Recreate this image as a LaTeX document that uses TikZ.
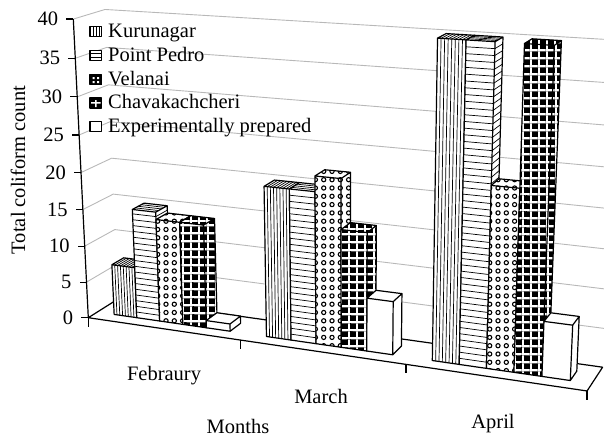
\documentclass[tikz,border=0pt]{standalone}
\usepackage{fontspec}
\setmainfont{Liberation Serif}
\usetikzlibrary{patterns,patterns.meta}

\tikzset{pp/.cd, X/.store in=\ppX, Y/.store in=\ppY, Z/.store in=\ppZ, X=0, Y=0, Z=0}
\tikzdeclarecoordinatesystem{pp}{%
  \tikzset{pp/.cd,#1}%
  \pgfmathsetmacro\ppw{1-0.04105*\ppX-0.001353*\ppY+0.03288*\ppZ}%
  \pgfmathsetmacro\ppxx{(88.3+142.16*\ppX-0.4742*\ppY+33.44*\ppZ)/\ppw}%
  \pgfmathsetmacro\ppyy{(317.7+8.374*\ppX-7.4916*\ppY-8.779*\ppZ)/\ppw}%
  \pgfpoint{\ppxx pt}{-\ppyy pt}%
}

\tikzdeclarepattern{
  name=velp, type=uncolored,
  bounding box={(-4.15pt,-4.15pt) and (4.15pt,4.15pt)},
  tile size={(8.3pt,8.3pt)},
  code={\draw[line width=1.1pt] (0pt,0pt) circle (2.1pt);}
}
\tikzdeclarepattern{
  name=chavp, type=colored,
  bounding box={(0pt,0pt) and (8.3pt,8.3pt)},
  tile size={(8.3pt,8.3pt)},
  code={\fill[black] (0pt,0pt) rectangle (8.3pt,8.3pt);
        \fill[white] (0pt,0pt) rectangle (8.3pt,1.9pt);
        \fill[white] (0pt,0pt) rectangle (1.9pt,8.3pt);}
}

\tikzset{
  gridln/.style={draw=black!28, line width=0.9pt},
  edge/.style={draw=black, line width=1.2pt},
  hatch/.style={draw=black, line width=0.7pt},
  lbl/.style={font=\fontsize{20.5}{24}\selectfont, inner sep=0pt},
  kurface/.style={fill=white},
  ppface/.style={fill=white},
  velface/.style={fill=white, postaction={pattern=velp}},
  chavface/.style={pattern=chavp},
  expface/.style={fill=white},
}

\newcommand\kurlines[3]{%
  \foreach \k in {1,...,7}{%
    \pgfmathsetmacro\xx{#1+\k*0.153846/8}%
    \draw[hatch] (pp cs:X=\xx,Y=0,Z=0.3) -- (pp cs:X=\xx,Y=#3,Z=0.3) -- (pp cs:X=\xx,Y=#3,Z=0.7);
  }%
}
\newcommand\pplines[3]{%
  \pgfmathtruncatemacro\nn{#3/0.8-0.01}%
  \foreach \k in {1,...,\nn}{%
    \pgfmathsetmacro\yy{\k*0.8}%
    \draw[hatch] (pp cs:X=#1,Y=\yy,Z=0.3) -- (pp cs:X=#2,Y=\yy,Z=0.3) -- (pp cs:X=#2,Y=\yy,Z=0.7);
  }%
  \foreach \z in {0.4,0.5,0.6}{%
    \draw[hatch] (pp cs:X=#1,Y=#3,Z=\z) -- (pp cs:X=#2,Y=#3,Z=\z);
  }%
}
\newcommand\vellines[3]{}
\newcommand\chavlines[3]{}
\newcommand\explines[3]{}

\newcommand\drawbar[3]{%
  \pgfmathsetmacro\xa{#1}%
  \pgfmathsetmacro\xb{#1+0.153846}%
  \coordinate (A) at (pp cs:X=\xa,Y=0,Z=0.3);
  \coordinate (B) at (pp cs:X=\xb,Y=0,Z=0.3);
  \coordinate (C) at (pp cs:X=\xb,Y=#2,Z=0.3);
  \coordinate (D) at (pp cs:X=\xa,Y=#2,Z=0.3);
  \coordinate (E) at (pp cs:X=\xa,Y=#2,Z=0.7);
  \coordinate (F) at (pp cs:X=\xb,Y=#2,Z=0.7);
  \coordinate (G) at (pp cs:X=\xb,Y=0,Z=0.7);
  \path[#3face] (A) -- (B) -- (C) -- (D) -- cycle;
  \path[#3face] (D) -- (C) -- (F) -- (E) -- cycle;
  \path[#3face] (B) -- (G) -- (F) -- (C) -- cycle;
  \csname #3lines\endcsname{\xa}{\xb}{#2}%
  \draw[edge] (A) -- (B) -- (C) -- (D) -- cycle (D) -- (E) -- (F) -- (C) (B) -- (G) -- (F);
}

\begin{document}
\begin{tikzpicture}[x=1pt,y=-1pt,line join=round]
\useasboundingbox (0,0) rectangle (604,437);
\clip (0,0) rectangle (604,437);

% walls gridlines
\foreach \v in {5,10,...,40}{
  \draw[gridln] (pp cs:X=0,Y=\v,Z=0) -- (pp cs:X=0,Y=\v,Z=1) -- (pp cs:X=3,Y=\v,Z=1);
}
% floor
\coordinate (f00) at (pp cs:X=0,Y=0,Z=0);
\coordinate (f30) at (pp cs:X=3,Y=0,Z=0);
\coordinate (f31) at (pp cs:X=3,Y=0,Z=1);
\coordinate (f01) at (pp cs:X=0,Y=0,Z=1);
\draw[edge] (f00) -- (f30) -- (f31) -- (f01) -- cycle;

% value axis
\coordinate (top) at (pp cs:X=0,Y=40,Z=0);
\draw[edge] (f00) -- (top);
\foreach \v in {0,5,...,40}{
  \coordinate (t\v) at (pp cs:X=0,Y=\v,Z=0);
  \draw[edge] (t\v) -- ++(-7,0) coordinate (tl\v);
  \node[lbl,anchor=east] at ([xshift=-8pt]tl\v) {\v};
}
% category ticks
\foreach \i in {0,1,2,3}{
  \coordinate (c\i) at (pp cs:X=\i,Y=0,Z=0);
  \draw[edge] (c\i) -- ++(0,9);
}

% bars
\def\w{0.153846}
\foreach \c/\a/\b/\cc/\d/\e in {0/7/15/14/14/1, 1/20/20/22/15.5/7, 2/40/40/23/40/7}{
  \pgfmathsetmacro\xo{\c+0.115385}
  \drawbar{\xo}{\a}{kur}
  \pgfmathsetmacro\xo{\c+0.115385+\w}
  \drawbar{\xo}{\b}{pp}
  \pgfmathsetmacro\xo{\c+0.115385+2*\w}
  \drawbar{\xo}{\cc}{vel}
  \pgfmathsetmacro\xo{\c+0.115385+3*\w}
  \drawbar{\xo}{\d}{chav}
  \pgfmathsetmacro\xo{\c+0.115385+4*\w}
  \drawbar{\xo}{\e}{exp}
}

% labels
\node[lbl,rotate=90] (ylab) at (18,170) {Total coliform count};
\node[lbl,anchor=base] (feb) at (164,380) {Febraury};
\node[lbl,anchor=base] (mar) at (321,403) {March};
\node[lbl,anchor=base] (apr) at (493,428) {April};
\node[lbl,anchor=base] (months) at (238,433) {Months};

% legend
\foreach \n/\t/\yb in {kur/Kurunagar/37.3, pp/Point Pedro/61.3, vel/Velanai/85, chav/Chavakachcheri/108.6, exp/Experimentally prepared/132}{
  \node[lbl,anchor=base west] (L\n) at (108,\yb) {\t};
}
\draw[edge,fill=white] (90,26.5) rectangle (101.5,36.5);
\foreach \xx in {93,96,99}{\draw[hatch] (\xx,26.5) -- (\xx,36.5);}
\draw[edge,fill=white] (90,50.5) rectangle (101.5,60.5);
\foreach \yy in {53.8,57.2}{\draw[hatch] (90,\yy) -- (101.5,\yy);}
\draw[edge,fill=black] (90,74.5) rectangle (101.5,84.5);
\fill[white] (92.5,77) rectangle (94.5,79) (97,77) rectangle (99,79) (92.5,81) rectangle (94.5,83) (97,81) rectangle (99,83);
\draw[edge,fill=black] (90,98) rectangle (101.5,108);
\fill[white] (91,102) rectangle (100.5,103.5) (95,100) rectangle (96.5,107);
\draw[edge,fill=white] (90,121.5) rectangle (101.5,131.5);
\end{tikzpicture}
\end{document}
